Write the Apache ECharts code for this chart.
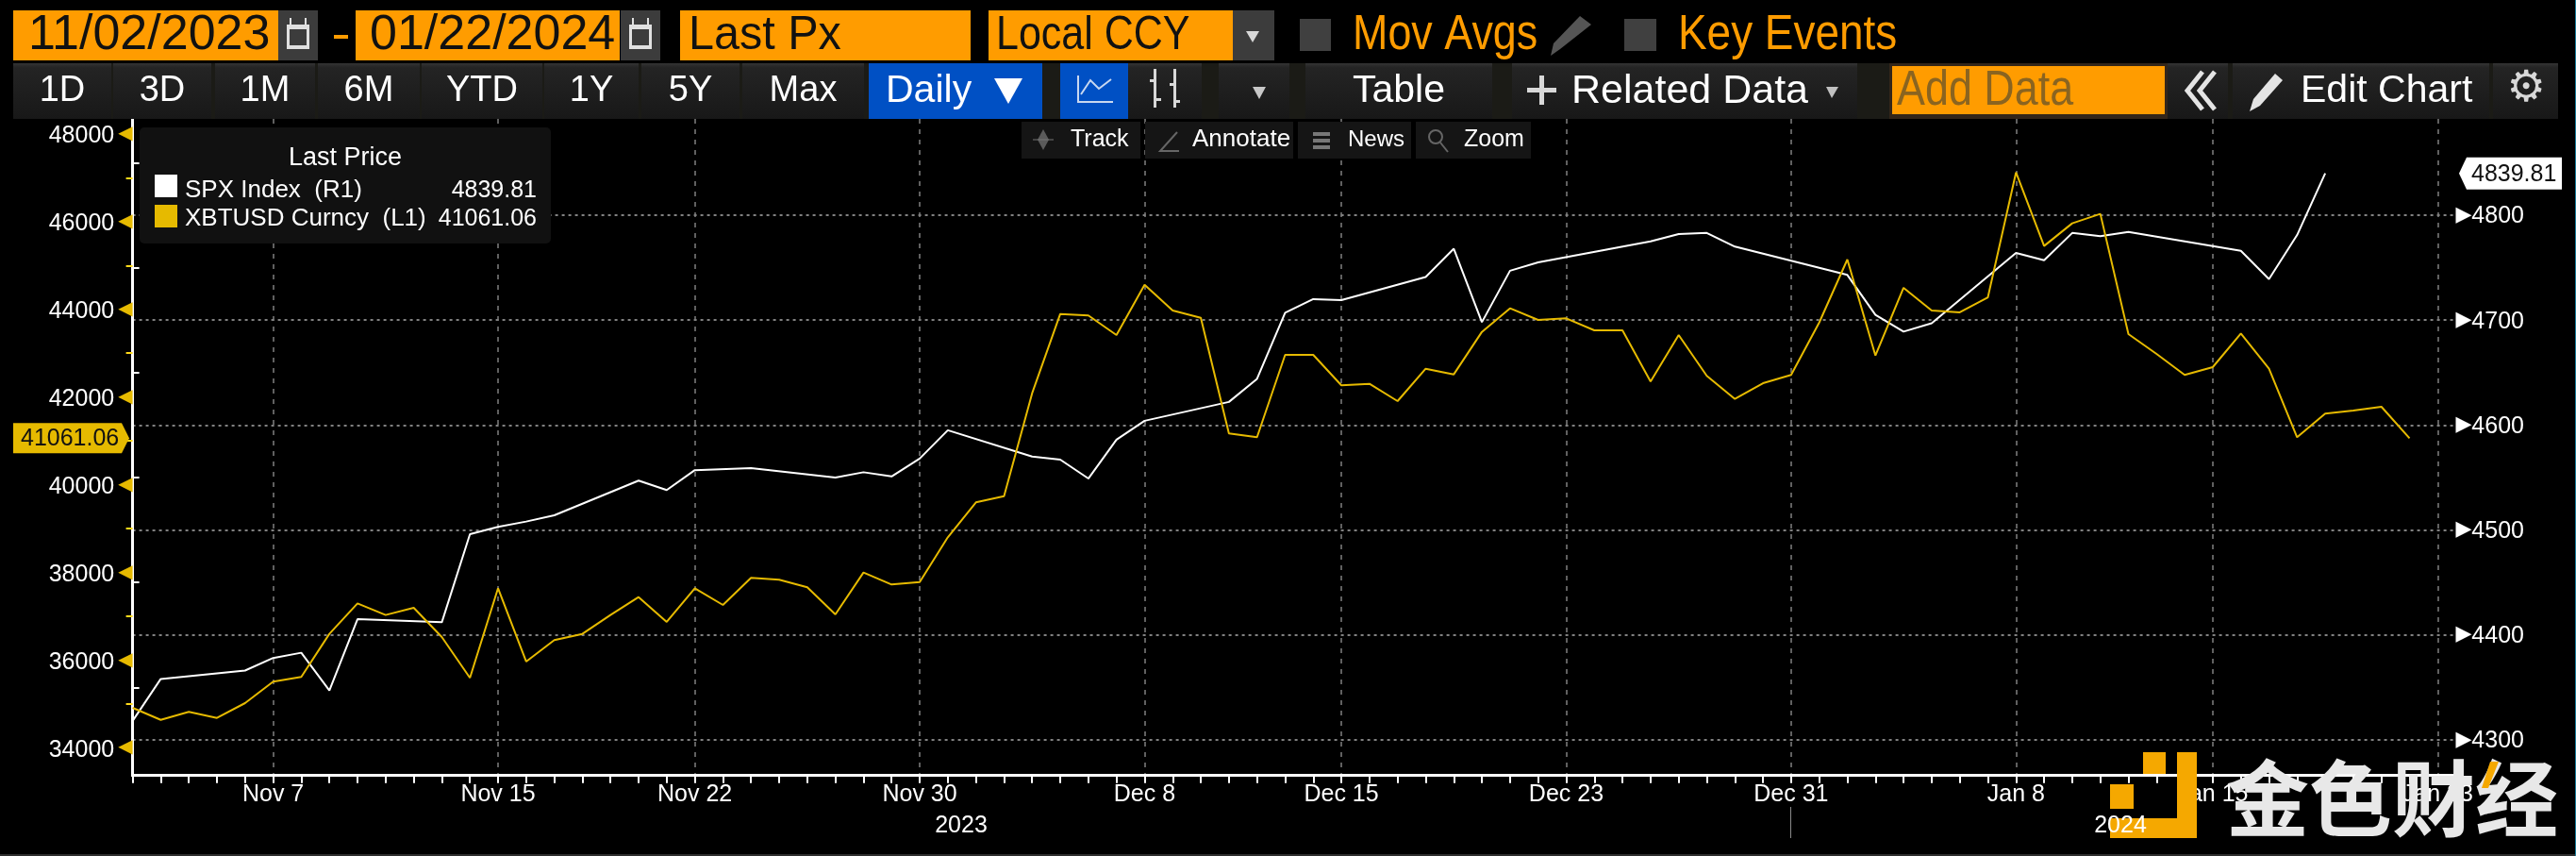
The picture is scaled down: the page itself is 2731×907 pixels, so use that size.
<!DOCTYPE html>
<html>
<head>
<meta charset="utf-8">
<title>SPX vs XBTUSD</title>
<script src="https://cdn.jsdelivr.net/npm/echarts@6/dist/echarts.min.js"></script>
<style>
html, body { margin: 0; padding: 0; background: #000; }
#chart { width: 2731px; height: 907px; }
</style>
</head>
<body>
<div id="chart"></div>
<script>
// ------------------ data ------------------
const BTC_START = '2023-11-02';
const BTC_VALUES = [
    34911, 34637, 34818, 34680, 35018, 35507, 35615, 36597, 37293, 37028,
    37193, 36525, 35593, 37638, 35966, 36454, 36597, 37028, 37436, 36870,
    37638, 37257, 37875, 37832, 37660, 37042, 37996, 37724, 37781, 38800,
    39597, 39740, 42086, 43894, 43860, 43414, 44562, 43974, 43808, 41169,
    41083, 42962, 42962, 42267, 42302, 41907, 42646, 42517, 43486, 44024,
    43759, 43795, 43522, 43522, 42353, 43414, 42482, 41957, 42316, 42503,
    43700, 45137, 42947, 44491, 43974, 43931, 44275, 47124, 45446, 45963,
    46178, 43436, 42984, 42503, 42682, 43451, 42646, 41083, 41621, 41692,
    41778, 41061.06
];
const SPX_DATES = [
    '2023-11-02', '2023-11-03', '2023-11-06', '2023-11-07', '2023-11-08', '2023-11-09', '2023-11-10',
    '2023-11-13', '2023-11-14', '2023-11-15', '2023-11-16', '2023-11-17', '2023-11-20', '2023-11-21',
    '2023-11-22', '2023-11-24', '2023-11-27', '2023-11-28', '2023-11-29', '2023-11-30', '2023-12-01',
    '2023-12-04', '2023-12-05', '2023-12-06', '2023-12-07', '2023-12-08', '2023-12-11', '2023-12-12',
    '2023-12-13', '2023-12-14', '2023-12-15', '2023-12-18', '2023-12-19', '2023-12-20', '2023-12-21',
    '2023-12-22', '2023-12-26', '2023-12-27', '2023-12-28', '2023-12-29', '2024-01-02', '2024-01-03',
    '2024-01-04', '2024-01-05', '2024-01-08', '2024-01-09', '2024-01-10', '2024-01-11', '2024-01-12',
    '2024-01-16', '2024-01-17', '2024-01-18', '2024-01-19'
];
const SPX_VALUES = [
    4318, 4358, 4366, 4378, 4383, 4347, 4415,
    4412, 4496, 4503, 4508, 4514, 4547, 4538,
    4557, 4559, 4550, 4555, 4551, 4568, 4595,
    4570, 4567, 4549, 4586, 4604, 4622, 4644,
    4707, 4720, 4719, 4741, 4768, 4698, 4747,
    4755, 4775, 4782, 4783, 4770, 4743, 4705,
    4689, 4697, 4764, 4757, 4783, 4780, 4784,
    4766, 4739, 4781, 4839.81
];
const X_TICK_DATES = [
    '2023-11-07', '2023-11-15', '2023-11-22', '2023-11-30', '2023-12-08', '2023-12-15',
    '2023-12-23', '2023-12-31', '2024-01-08', '2024-01-15', '2024-01-23'
];
const X_TICK_LABELS = [
    'Nov 7', 'Nov 15', 'Nov 22', 'Nov 30', 'Dec 8', 'Dec 15',
    'Dec 23', 'Dec 31', 'Jan 8', 'Jan 15', 'Jan 23'
];
const LEFT_LABELS = [34000, 36000, 38000, 40000, 42000, 44000, 46000, 48000];
const LEFT_MINOR = [35000, 37000, 39000, 41000, 43000, 45000, 47000];
const RIGHT_LABELS = [4300, 4400, 4500, 4600, 4700, 4800];
const RIGHT_MINOR = [4350, 4450, 4550, 4650, 4750, 4850];

// ------------------ helpers ------------------
const DAY = 86400000;
const FONT = '"Liberation Sans", Arial, sans-serif';
const ORANGE = '#FF9C00';
const YELLOW = '#E6BA00';
const GRID = '#808080';

// x axis is in days since the first date, time axis does not take customValues
function dayOf(s) {
    return (Date.parse(s + 'T00:00:00Z') - Date.parse(BTC_START + 'T00:00:00Z')) / DAY;
}

const xMax = 82.64;

let dailyTicks = [];
for (let d = 0; d <= xMax; d++) {
    dailyTicks.push(d);
}
const btcData = BTC_VALUES.map(function (v, i) { return [i, v]; });
const spxData = SPX_VALUES.map(function (v, i) { return [dayOf(SPX_DATES[i]), v]; });
const xTickValues = X_TICK_DATES.map(dayOf);

function xLabel(v) {
    return X_TICK_LABELS[xTickValues.indexOf(v)] || '';
}

let elements = [];

function box(x0, y0, x1, y1, fill) {
    elements.push({
        type: 'rect', z: 50, silent: true,
        shape: {x: x0, y: y0, width: x1 - x0, height: y1 - y0},
        style: {fill: fill}
    });
}

function label(text, x, y, size, fill, align, family, weight, sx) {
    elements.push({
        type: 'text', z: 60, silent: true,
        x: x, y: y, scaleX: sx || 1,
        style: {
            text: text, x: 0, y: 0, fill: fill,
            font: (weight || 'normal') + ' ' + size + 'px ' + (family || FONT),
            textAlign: align || 'left', textVerticalAlign: 'middle'
        }
    });
}

function poly(points, fill) {
    elements.push({type: 'polygon', z: 60, silent: true, shape: {points: points}, style: {fill: fill}});
}

function stroke(points, color, width) {
    elements.push({
        type: 'polyline', z: 60, silent: true, shape: {points: points},
        style: {stroke: color, lineWidth: width, fill: null}
    });
}

const BTN_FILL = new echarts.graphic.LinearGradient(0, 0, 0, 1, [
    {offset: 0, color: '#333333'}, {offset: 0.08, color: '#242424'}, {offset: 1, color: '#181818'}
]);
const BLUE = '#0050C4';

function button(x0, x1, text, size, fill) {
    box(x0, 67, x1, 126, fill || BTN_FILL);
    if (text) {
        label(text, (x0 + x1) / 2, 97, size, '#ffffff', 'center');
    }
}

function calendar(x0) {
    box(x0, 11, x0 + 42, 64, '#3c3c3c');
    box(x0 + 9, 26, x0 + 33, 52, '#e0e0e0');
    box(x0 + 12, 31, x0 + 30, 48, '#3c3c3c');
    box(x0 + 12, 19, x0 + 14, 28, '#e0e0e0');
    box(x0 + 28, 19, x0 + 30, 28, '#e0e0e0');
}

function buildToolbar() {
    // first row
    box(14, 11, 295, 64, ORANGE);
    label('11/02/2023', 30, 38, 52, '#111');
    calendar(295);
    box(354, 37, 369, 41, ORANGE);
    box(377, 11, 657, 64, ORANGE);
    label('01/22/2024', 392, 38, 52, '#111');
    calendar(658);
    box(721, 11, 1029, 64, ORANGE);
    label('Last Px', 730, 38, 50, '#111', 'left', null, null, 0.97);
    box(1048, 11, 1307, 64, ORANGE);
    label('Local CCY', 1056, 38, 50, '#111', 'left', null, null, 0.86);
    box(1307, 11, 1351, 64, '#3c3c3c');
    poly([[1321, 33], [1335, 33], [1328, 45]], '#d8d8d8');
    box(1378, 20, 1411, 54, '#404040');
    label('Mov Avgs', 1434, 38, 51, ORANGE, 'left', null, null, 0.88);
    poly([[1675, 17], [1687, 26], [1654, 52], [1644, 59], [1647, 46]], '#555555');
    box(1722, 20, 1756, 54, '#404040');
    label('Key Events', 1779, 38, 51, ORANGE, 'left', null, null, 0.9);

    // second row
    box(14, 67, 2712, 126, '#1b1b16');
    button(14, 118, '1D', 38);
    button(120, 224, '3D', 38);
    button(228, 334, '1M', 38);
    button(337, 445, '6M', 38);
    button(447, 575, 'YTD', 38);
    button(577, 677, '1Y', 38);
    button(680, 784, '5Y', 38);
    button(787, 916, 'Max', 38);
    button(921, 1105, '', 38, BLUE);
    label('Daily', 939, 97, 41, '#ffffff');
    poly([[1054, 83], [1084, 83], [1069, 110]], '#ffffff');
    button(1124, 1196, '', 38, BLUE);
    stroke([[1143, 80], [1143, 108], [1180, 108]], '#c8d8f0', 2);
    stroke([[1146, 100], [1156, 85], [1165, 94], [1178, 84]], '#c8d8f0', 2);
    button(1196, 1274);
    box(1223, 73, 1226, 114, '#d8d8d8');
    box(1244, 73, 1247, 114, '#d8d8d8');
    box(1219, 84, 1223, 87, '#d8d8d8');
    box(1226, 104, 1231, 107, '#d8d8d8');
    box(1240, 88, 1244, 91, '#d8d8d8');
    box(1247, 106, 1251, 109, '#d8d8d8');
    button(1292, 1367);
    poly([[1328, 92], [1342, 92], [1335, 105]], '#c8c8c8');
    button(1384, 1582, 'Table', 41);
    button(1603, 1969);
    box(1619, 93, 1650, 98, '#d8d8d8');
    box(1632, 80, 1637, 111, '#d8d8d8');
    label('Related Data', 1666, 97, 43, '#ffffff');
    poly([[1936, 92], [1949, 92], [1942, 104]], '#c0c0c0');
    box(2003, 67, 2298, 126, '#33261a');
    box(2006, 70, 2295, 121, ORANGE);
    label('Add Data', 2011, 97, 51, '#8a6420', 'left', null, null, 0.88);
    button(2298, 2362);
    stroke([[2335, 76], [2319, 96], [2335, 116]], '#e4e4e4', 5);
    stroke([[2348, 76], [2332, 96], [2348, 116]], '#e4e4e4', 5);
    button(2367, 2639);
    poly([[2412, 78], [2420, 85], [2396, 112], [2385, 118], [2389, 105]], '#e4e4e4');
    label('Edit Chart', 2439, 97, 41, '#ffffff');
    button(2643, 2712);
    label('\u2699', 2678, 95, 46, '#d8d8d8', 'center', '"DejaVu Sans"');

    // mini toolbar over the plot
    box(1083, 129, 1209, 168, '#151515');
    box(1214, 129, 1371, 168, '#151515');
    box(1376, 129, 1496, 168, '#151515');
    box(1501, 129, 1623, 168, '#151515');
    label('Track', 1135, 148, 25, '#ffffff');
    label('Annotate', 1264, 148, 26, '#ffffff');
    label('News', 1429, 148, 24, '#ffffff');
    label('Zoom', 1552, 148, 25, '#ffffff');
    poly([[1106, 137], [1112, 148], [1106, 159], [1100, 148]], '#5a5a5a');
    stroke([[1095, 148], [1117, 148]], '#777', 1);
    stroke([[1248, 140], [1230, 160], [1250, 160]], '#666', 2);
    box(1392, 140, 1410, 144, '#777');
    box(1392, 147, 1410, 151, '#777');
    box(1392, 154, 1410, 158, '#777');
    elements.push({
        type: 'circle', z: 60, silent: true, shape: {cx: 1522, cy: 145, r: 7},
        style: {stroke: '#666', lineWidth: 2, fill: null}
    });
    stroke([[1527, 151], [1535, 161]], '#666', 2);

    // legend box
    elements.push({
        type: 'rect', z: 50, silent: true,
        shape: {x: 148, y: 135, width: 436, height: 123, r: 5},
        style: {fill: '#111111'}
    });
    label('Last Price', 366, 168, 27, '#ffffff', 'center');
    box(164, 185, 188, 209, '#ffffff');
    label('SPX Index  (R1)', 196, 202, 26, '#ffffff');
    label('4839.81', 569, 202, 25, '#ffffff', 'right');
    box(164, 217, 188, 241, YELLOW);
    label('XBTUSD Curncy  (L1)', 196, 232, 26, '#ffffff');
    label('41061.06', 569, 232, 25, '#ffffff', 'right');

    // year row
    label('2023', 1019, 875, 25, '#ffffff', 'center');
    label('2024', 2248, 875, 25, '#ffffff', 'center');
    box(1898, 855, 1899, 888, '#8a8a8a');

    // picture edges
    box(0, 905, 2731, 907, '#2e2e2e');
    box(2730, 0, 2731, 907, '#1b7f9c');
}

function buildFlags(chart) {
    const btcLast = BTC_VALUES[BTC_VALUES.length - 1];
    const spxLast = SPX_VALUES[SPX_VALUES.length - 1];
    const yl = chart.convertToPixel({yAxisIndex: 0}, btcLast);
    const yr = chart.convertToPixel({yAxisIndex: 1}, spxLast);
    poly([[14, yl - 16], [129, yl - 16], [137, yl], [129, yl + 16], [14, yl + 16]], YELLOW);
    label('41061.06', 22, yl + 1, 25, '#111');
    poly([[2615, yr - 17], [2716, yr - 17], [2716, yr + 17], [2615, yr + 17], [2607, yr]], '#ffffff');
    label('4839.81', 2620, yr + 1, 25, '#111');
}

function buildWatermark() {
    box(2272, 797, 2296, 820, '#F5A800');
    box(2237, 831, 2262, 857, '#F5A800');
    box(2308, 797, 2329, 888, '#F5A800');
    box(2237, 867, 2329, 888, '#F5A800');
    label('金色财经', 2536, 846, 88, '#e8e8e8', 'center', '"Noto Sans CJK SC"', 'bold');
    poly([[2640, 807], [2649, 807], [2638, 835], [2631, 835]], '#F5A800');
}

// ------------------ chart ------------------
const chart = echarts.init(document.getElementById('chart'), null, {renderer: 'canvas'});

const grid = {left: 140.6, right: 2731 - 2603.4, top: 126, bottom: 907 - 821.7};
const yLeft = {min: 33367, max: 48344};
const yRight = {min: 4266, max: 4891.7};

chart.setOption({
    backgroundColor: '#000000',
    animation: false,
    grid: grid,
    xAxis: [
        {
            type: 'value', min: 0, max: xMax,
            axisLine: {lineStyle: {color: '#ffffff', width: 3}},
            axisTick: {show: true, customValues: dailyTicks, length: 8, lineStyle: {color: '#ffffff', width: 2}},
            axisLabel: {
                show: true, customValues: xTickValues, formatter: xLabel, margin: 8,
                color: '#ffffff', fontSize: 25, fontFamily: FONT, hideOverlap: false
            },
            splitLine: {show: false}
        },
        {
            // only carries the vertical grid lines at the labelled dates
            type: 'value', min: 0, max: xMax,
            axisLine: {show: false},
            axisTick: {show: false, customValues: xTickValues},
            axisLabel: {show: false},
            splitLine: {show: true, lineStyle: {color: GRID, width: 1.5, type: [5, 6]}}
        }
    ],
    yAxis: [
        {
            type: 'value', position: 'left', min: yLeft.min, max: yLeft.max,
            axisLine: {show: true, lineStyle: {color: '#FFD91A', width: 3}},
            axisTick: {show: true, customValues: LEFT_MINOR, length: 7, lineStyle: {color: '#FFD91A', width: 2}},
            axisLabel: {
                customValues: LEFT_LABELS, margin: 0,
                formatter: function (v) { return '{v|' + v + '}{a|\u25C0}'; },
                rich: {
                    v: {fontSize: 25, color: '#ffffff', fontFamily: FONT, padding: [5, 0, 0, 0]},
                    a: {fontSize: 20, color: YELLOW, fontFamily: '"DejaVu Sans"', padding: [0, 0, 0, 4]}
                }
            },
            splitLine: {show: false}
        },
        {
            type: 'value', position: 'right', min: yRight.min, max: yRight.max,
            axisLine: {show: true, lineStyle: {color: '#ffffff', width: 3}},
            axisTick: {show: true, customValues: RIGHT_MINOR, length: 7, lineStyle: {color: '#ffffff', width: 2}},
            axisLabel: {
                customValues: RIGHT_LABELS, margin: 0,
                formatter: function (v) { return '{a|\u25B6}{v|' + v + '}'; },
                rich: {
                    v: {fontSize: 25, color: '#ffffff', fontFamily: FONT, padding: [3, 0, 0, 0]},
                    a: {fontSize: 22, color: '#ffffff', fontFamily: '"DejaVu Sans"'}
                }
            },
            splitLine: {show: false}
        },
        {
            // only carries the horizontal grid lines
            type: 'value', position: 'right', min: yRight.min, max: yRight.max,
            axisLine: {show: false},
            axisTick: {show: false, customValues: RIGHT_LABELS},
            axisLabel: {show: false},
            splitLine: {show: true, lineStyle: {color: GRID, width: 2, type: [3, 4]}}
        }
    ],
    series: [
        {
            name: 'SPX Index', type: 'line', xAxisIndex: 0, yAxisIndex: 1, data: spxData,
            showSymbol: false, symbol: 'none', lineStyle: {color: '#ffffff', width: 2}, z: 3
        },
        {
            name: 'XBTUSD Curncy', type: 'line', xAxisIndex: 0, yAxisIndex: 0, data: btcData,
            showSymbol: false, symbol: 'none', lineStyle: {color: YELLOW, width: 2}, z: 4
        }
    ]
});

buildToolbar();
buildFlags(chart);
buildWatermark();
chart.setOption({graphic: {elements: elements}});
</script>
</body>
</html>
